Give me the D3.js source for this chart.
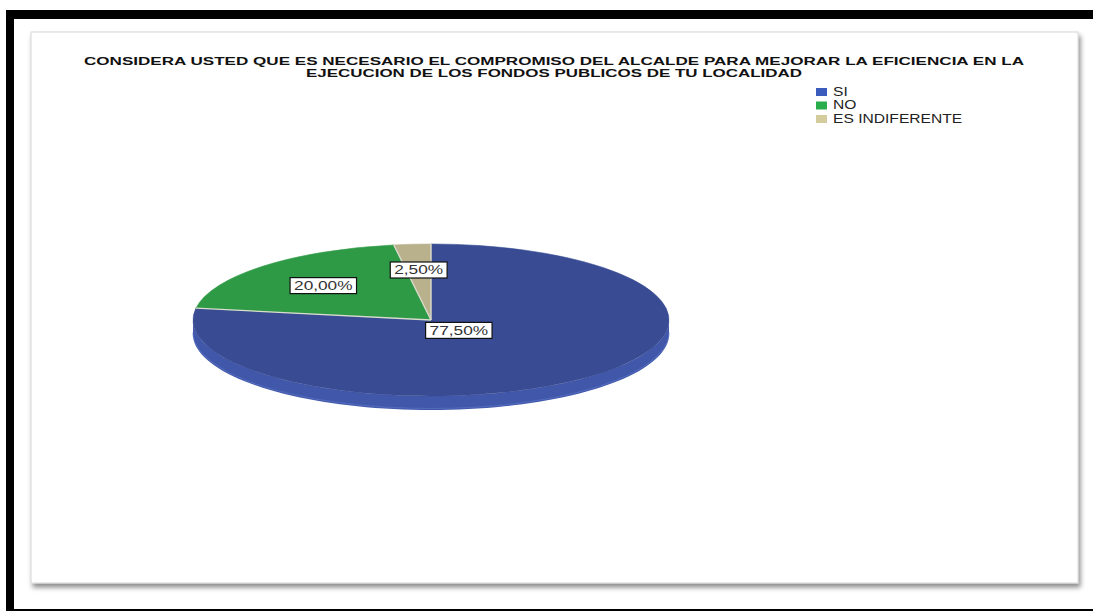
<!DOCTYPE html>
<html><head><meta charset="utf-8">
<script src="https://cdn.jsdelivr.net/npm/d3@7"></script>
<style>html,body{margin:0;padding:0;background:#fff;}svg{display:block;}</style>
</head><body>
<svg id="chart" width="1093" height="612"></svg>
<script>
// ---- data ----
const categories = ["SI", "NO", "ES INDIFERENTE"];
const values = [77.5, 20.0, 2.5];
const titleLines = [
  "CONSIDERA USTED QUE ES NECESARIO EL COMPROMISO DEL ALCALDE PARA MEJORAR LA EFICIENCIA EN LA",
  "EJECUCION DE LOS FONDOS PUBLICOS DE TU LOCALIDAD"
];
const topColors = ["#384b93", "#2f9a46", "#b9b18c"];
const legendColors = ["#3b5bbd", "#2aae4c", "#d4cc9d"];

// ---- layout ----
const W = 1093, H = 612;
const svg = d3.select("#chart");
const defs = svg.append("defs");
const f = defs.append("filter").attr("id", "shadow").attr("x", "-5%").attr("y", "-5%").attr("width", "110%").attr("height", "115%");
f.append("feDropShadow").attr("dx", 2).attr("dy", 4).attr("stdDeviation", 2.5).attr("flood-color", "#000").attr("flood-opacity", 0.45);

// black frame
svg.append("rect").attr("x", 6).attr("y", 10).attr("width", W - 6).attr("height", 9).attr("fill", "#000");
svg.append("rect").attr("x", 6).attr("y", 10).attr("width", 8).attr("height", 601).attr("fill", "#000");
svg.append("rect").attr("x", 6).attr("y", 609).attr("width", W - 6).attr("height", 2).attr("fill", "#000");

// card
svg.append("rect").attr("x", 31).attr("y", 32).attr("width", 1047).attr("height", 551)
  .attr("fill", "#fff").attr("stroke", "#d6d6d6").attr("stroke-width", 1).attr("filter", "url(#shadow)");

// title
const titleFont = "'Liberation Sans', Arial, sans-serif";
const titleLens = [940, 496];
const titleBase = [64.5, 76.5];
titleLines.forEach((t, i) => {
  svg.append("text").attr("x", 554).attr("y", titleBase[i]).attr("text-anchor", "middle")
    .attr("font-family", titleFont).attr("font-weight", "bold").attr("font-size", 11)
    .attr("fill", "#111").attr("textLength", titleLens[i]).attr("lengthAdjust", "spacingAndGlyphs").text(t);
});

// legend
const lg = svg.append("g");
categories.forEach((c, i) => {
  const y = 96 + i * 13.5;
  lg.append("rect").attr("x", 816).attr("y", y - 8).attr("width", 11).attr("height", 8).attr("fill", legendColors[i]);
  lg.append("text").attr("x", 833).attr("y", y).attr("font-family", titleFont).attr("font-size", 12.8)
    .attr("fill", "#222").attr("transform", `translate(${833},0) scale(1.22,1) translate(${-833},0)`).text(c);
});

// pie (elliptical 3D)
const cx = 431, cy = 320, rx = 238, ry = 76, depth = 14;
const pie = d3.pie().sort(null).value(d => d);
const arcs = pie(values);
const pt = (a, dy = 0) => [cx + rx * Math.sin(a), cy - ry * Math.cos(a) + dy];

// side (front half only)
const sideG = svg.append("g");
arcs.forEach((d, i) => {
  const a0 = Math.max(d.startAngle, Math.PI / 2), a1 = Math.min(d.endAngle, 3 * Math.PI / 2);
  if (a1 <= a0) return;
  const n = 80;
  const angs = d3.range(n + 1).map(k => a0 + (a1 - a0) * k / n);
  const top = angs.map(a => pt(a));
  const bot = angs.slice().reverse().map(a => pt(a, depth));
  const sideColor = d3.color(topColors[i]).brighter(0.4);
  sideG.append("path").attr("d", d3.line()(top.concat(bot)) + "Z").attr("fill", sideColor);
});
// slight highlight along the lower rim
sideG.append("path").attr("d", d3.line()(d3.range(81).map(k => pt(Math.PI / 2 + Math.PI * k / 80, depth - 1.5))))
  .attr("fill", "none").attr("stroke", "#5a74c4").attr("stroke-width", 1.2).attr("opacity", 0.6);

// top faces
const arcGen = d3.arc().innerRadius(0).outerRadius(rx);
const topG = svg.append("g").attr("transform", `translate(${cx},${cy}) scale(1,${ry / rx})`);
topG.selectAll("path").data(arcs).join("path")
  .attr("d", arcGen).attr("fill", (d, i) => topColors[i])
  .attr("stroke", (d, i) => topColors[i]).attr("stroke-width", 0.6).attr("vector-effect", "non-scaling-stroke");
// slice separators
topG.selectAll("line.sep").data(arcs).join("line").attr("class", "sep")
  .attr("x1", 0).attr("y1", 0)
  .attr("x2", d => rx * Math.sin(d.startAngle)).attr("y2", d => -rx * Math.cos(d.startAngle))
  .attr("stroke", "#d9dccf").attr("stroke-width", 1.3).attr("vector-effect", "non-scaling-stroke");

// labels
const fmt = v => d3.format(".2f")(v).replace(".", ",") + "%";
const labelFrac = [0.18, 0.64, 0.66];
const sx = 1.38;
arcs.forEach((d, i) => {
  const mid = (d.startAngle + d.endAngle) / 2;
  const px = cx + rx * labelFrac[i] * Math.sin(mid);
  const py = cy - ry * labelFrac[i] * Math.cos(mid);
  const g = svg.append("g");
  const txt = g.append("text").attr("font-family", titleFont).attr("font-size", 12.5).attr("fill", "#333")
    .attr("text-anchor", "middle").attr("transform", `translate(${px},${py + 4.5}) scale(${sx},1)`).text(fmt(d.data));
  const w = txt.node().getComputedTextLength() * sx + 8;
  g.insert("rect", "text").attr("x", px - w / 2).attr("y", py - 8).attr("width", w).attr("height", 16)
    .attr("fill", "#fff").attr("stroke", "#111").attr("stroke-width", 1.2);
});
</script>
</body></html>
